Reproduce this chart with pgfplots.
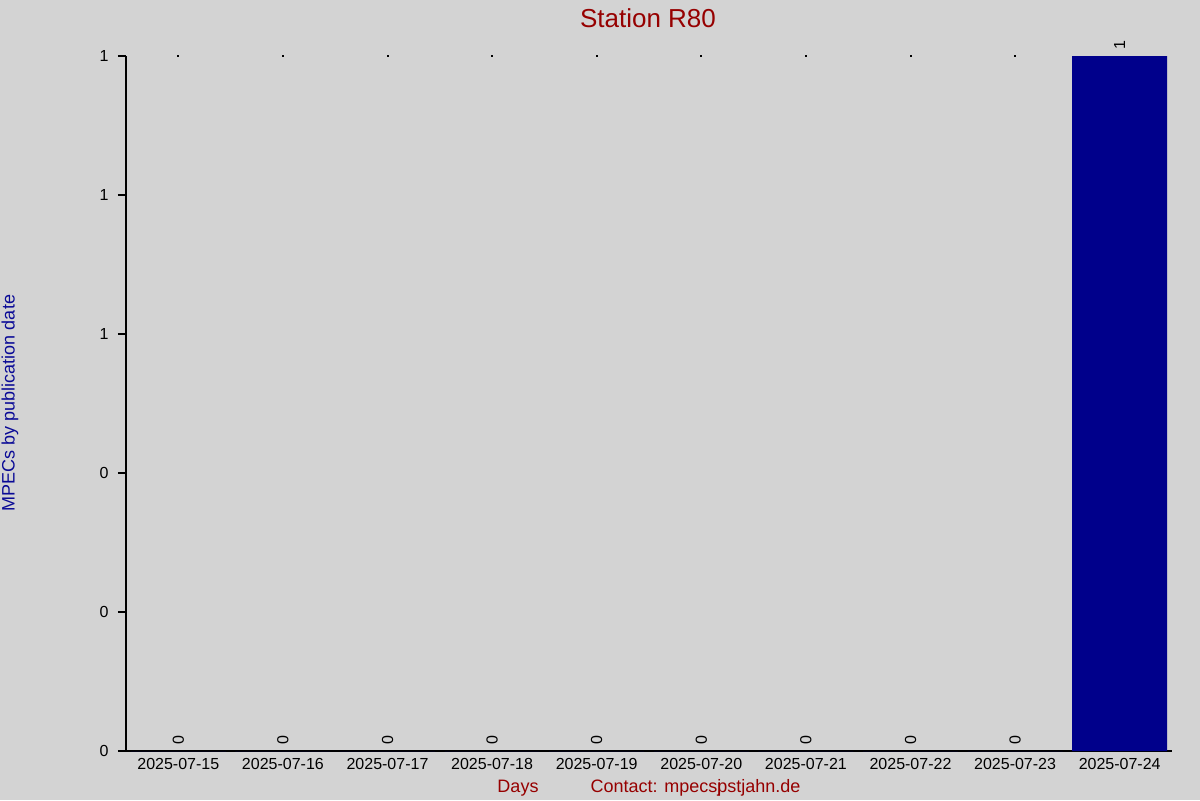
\documentclass[border=0pt]{standalone}
\usepackage{fontspec}
\setmainfont{Liberation Sans}
\usepackage{xcolor}
\usepackage{pgfplots}
\pgfplotsset{compat=1.18}

\definecolor{bg}{RGB}{211,211,211}
\definecolor{barblue}{RGB}{0,0,139}
\definecolor{titlered}{RGB}{150,0,0}
\definecolor{labelblue}{RGB}{10,10,150}

\begin{document}
\begin{tikzpicture}
    \useasboundingbox (0,0) rectangle (600pt,400pt);
    \fill[bg] (0,0) rectangle (600pt,400pt);
    \begin{axis}[
        at={(63pt,24.5pt)}, anchor=south west,
        scale only axis,
        width=523pt, height=347.5pt,
        xmin=-0.5, xmax=9.5,
        ymin=0, ymax=1,
        axis x line*=bottom, axis y line*=left,
        axis line style={-, black, line width=0.6pt},
        xtick={0,...,9},
        xticklabels={2025-07-15,2025-07-16,2025-07-17,2025-07-18,2025-07-19,2025-07-20,2025-07-21,2025-07-22,2025-07-23,2025-07-24},
        major x tick style={draw=none},
        ytick={0,0.2,0.4,0.6,0.8,1},
        yticklabels={0,0,0,1,1,1},
        tick align=outside,
        major tick length=4pt,
        major y tick style={black, line width=0.6pt},
        tick label style={font=\fontsize{8}{9.6}\selectfont, black},
        yticklabel style={inner xsep=0pt, xshift=-4.5pt},
        xticklabel style={inner ysep=0pt, yshift=0.5pt},
        /pgf/number format/assume math mode=true,
        clip=false,
    ]
        \addplot[ybar, bar width=47.5pt, fill=barblue, draw=none,
            nodes near coords,
            every node near coord/.append style={rotate=90, anchor=west,
                font=\fontsize{8}{9.6}\selectfont, black, inner xsep=3pt, inner ysep=0pt}]
            coordinates {(0,0) (1,0) (2,0) (3,0) (4,0) (5,0) (6,0) (7,0) (8,0) (9,1)};
        \addplot[only marks, mark=square*, mark size=0.25pt, black]
            coordinates {(0,1) (1,1) (2,1) (3,1) (4,1) (5,1) (6,1) (7,1) (8,1)};
    \end{axis}
    \node[titlered, font=\fontsize{13}{15}\selectfont] at (324pt,391pt) {Station R80};
    \node[labelblue, rotate=90, font=\fontsize{9}{11}\selectfont] at (5pt,198.5pt) {MPECs by publication date};
    \node[titlered, font=\fontsize{9}{11}\selectfont] at (259pt,6pt) {Days};
    \node[titlered, font=\fontsize{9}{11}\selectfont] at (347.75pt,6pt) {Contact: mpecs\rlap{j}pstjahn.de};
\end{tikzpicture}
\end{document}
